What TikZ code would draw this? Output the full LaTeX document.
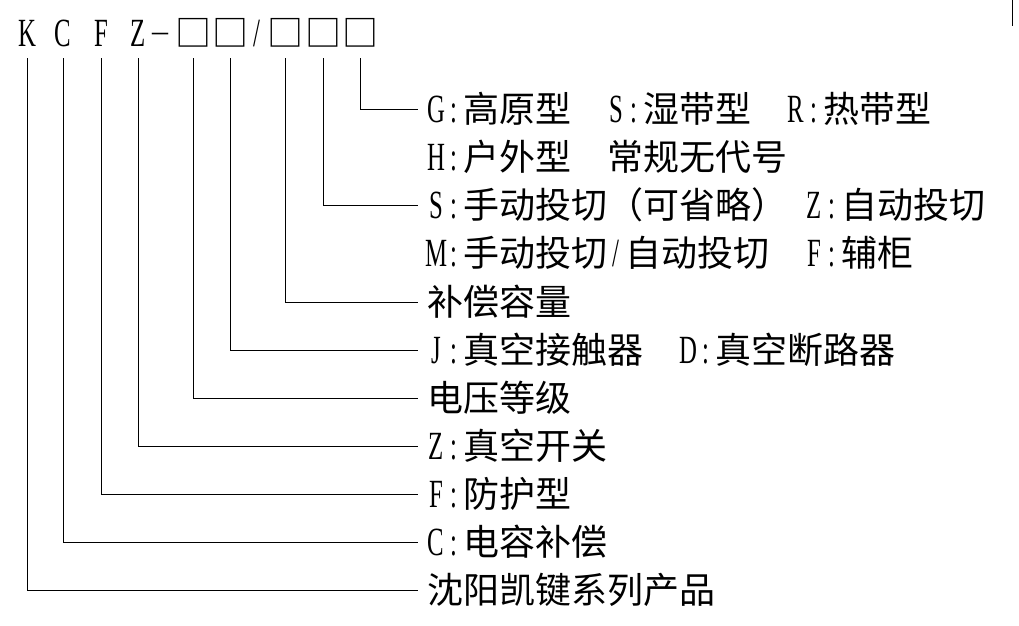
\documentclass[tikz,border=0pt]{standalone}
\usepackage{fontspec}
\setmainfont{Liberation Serif}
\newfontfamily\cjk{Noto Sans CJK SC}
\newcommand\hw[1]{\makebox[18bp]{\scalebox{0.62}[1]{\rmfamily\fontsize{40bp}{40bp}\selectfont #1}}}
\newcommand\gap{\hspace*{18bp}}
\begin{document}
\begin{tikzpicture}[x=1bp,y=-1bp,
  lbl/.style={anchor=west, inner sep=0pt, text height=30bp, text depth=4bp, font=\cjk\fontsize{36bp}{40bp}\selectfont},
  hd/.style={anchor=base, inner sep=0pt, text depth=11bp, font=\cjk\fontsize{36bp}{40bp}\selectfont},
  conn/.style={line width=1bp}]
\useasboundingbox (0,0) rectangle (1019,626);
% header
\node[hd] (hk) at (27,47) {\hw{K}};
\node[hd] (hc) at (63,47) {\hw{C}};
\node[hd] (hf) at (101,47) {\hw{F}};
\node[hd] (hz) at (138,47) {\hw{Z}};
\node[hd] (hdash) at (160,47) {\makebox[18bp]{\raisebox{5bp}{\rmfamily\fontsize{32bp}{40bp}\selectfont –}}};
\node[hd] (b1) at (193,47) {□};
\node[hd] (b2) at (230,47) {□};
\node[hd] (hsl) at (257,47) {\hw{/}};
\node[hd] (b3) at (285,47) {□};
\node[hd] (b4) at (323,47) {□};
\node[hd] (b5) at (360,47) {□};
% labels
\node[lbl] (r1) at (427,110) {\hw{G}\hw{:}高原型\gap\gap\hw{S}\hw{:}湿带型\gap\gap\hw{R}\hw{:}热带型};
\node[lbl] (r2) at (427,158) {\hw{H}\hw{:}户外型\gap\gap 常规无代号};
\node[lbl] (r3) at (427,206) {\hw{S}\hw{:}手动投切（可省略）\gap\hw{Z}\hw{:}自动投切};
\node[lbl] (r4) at (427,254) {\hw{M}\hw{:}手动投切\hw{/}自动投切\gap\gap\hw{F}\hw{:}辅柜};
\node[lbl] (r5) at (427,302) {补偿容量};
\node[lbl] (r6) at (427,350) {\hw{J}\hw{:}真空接触器\gap\gap\hw{D}\hw{:}真空断路器};
\node[lbl] (r7) at (427,398) {电压等级};
\node[lbl] (r8) at (427,446) {\hw{Z}\hw{:}真空开关};
\node[lbl] (r9) at (427,494) {\hw{F}\hw{:}防护型};
\node[lbl] (r10) at (427,542) {\hw{C}\hw{:}电容补偿};
\node[lbl] (r11) at (427,590) {沈阳凯键系列产品};
% connectors
\draw[conn] (b5.south) |- ([xshift=-9bp]r1.west);
\draw[conn] (b4.south) |- ([xshift=-9bp]r3.west);
\draw[conn] (b3.south) |- ([xshift=-9bp]r5.west);
\draw[conn] (b2.south) |- ([xshift=-9bp]r6.west);
\draw[conn] (b1.south) |- ([xshift=-9bp]r7.west);
\draw[conn] (hz.south) |- ([xshift=-9bp]r8.west);
\draw[conn] (hf.south) |- ([xshift=-9bp]r9.west);
\draw[conn] (hc.south) |- ([xshift=-9bp]r10.west);
\draw[conn] (hk.south) |- ([xshift=-9bp]r11.west);
% stray mark at top right
\draw[conn] (1012,0) -- (1012,26);
\end{tikzpicture}
\end{document}
